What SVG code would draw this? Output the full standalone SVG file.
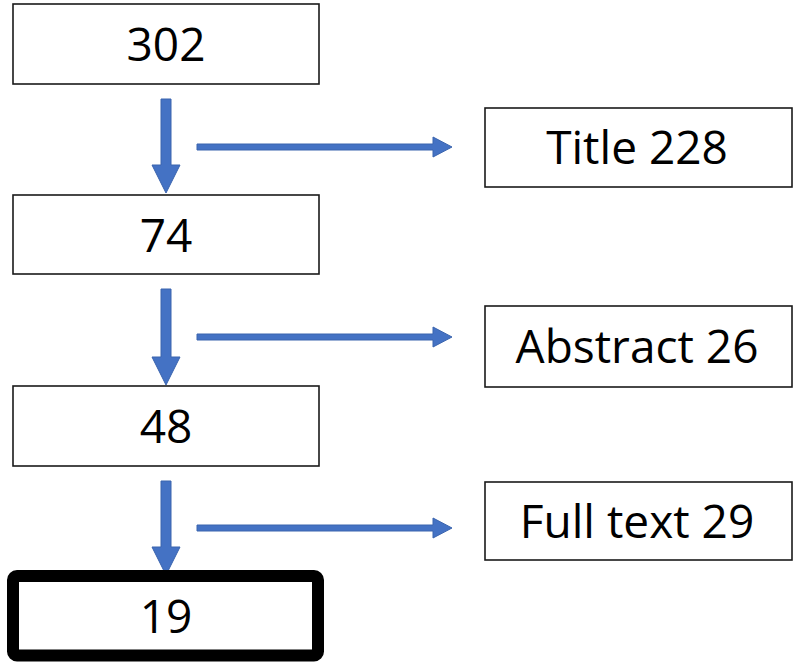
<svg xmlns="http://www.w3.org/2000/svg" width="800" height="670" viewBox="0 0 800 670">
<style>
.box{fill:#fff;stroke:#1a1a1a;stroke-width:1.6}
.final{fill:#fff;stroke:#000;stroke-width:12}
.lbl{font-family:"Open Sans","Noto Sans",sans-serif;font-size:46px;fill:#000;text-anchor:middle}
.arr{fill:#4472C4;stroke:#3a64ae;stroke-width:1}
</style>
<rect width="800" height="670" fill="#fff"/>
<g id="connectors">
<polygon class="arr" points="161,99 171,99 171,165 180,165 166,193 152,165 161,165"/>
<polygon class="arr" points="161,289 171,289 171,357 180,357 166,385 152,357 161,357"/>
<polygon class="arr" points="161,481 171,481 171,547 180,547 166,575 152,547 161,547"/>
<polygon class="arr" points="197,144 433,144 433,137 452,147 433,157 433,150 197,150"/>
<polygon class="arr" points="197,334 433,334 433,327 452,337 433,347 433,340 197,340"/>
<polygon class="arr" points="197,525 433,525 433,518 452,528 433,538 433,531 197,531"/>
</g>
<g id="n302"><rect class="box" x="13" y="4" width="306" height="80"/><text class="lbl" x="166" y="61">302</text></g>
<g id="n74"><rect class="box" x="13" y="195" width="306" height="79"/><text class="lbl" x="166" y="252">74</text></g>
<g id="n48"><rect class="box" x="13" y="386" width="306" height="80"/><text class="lbl" x="166" y="443">48</text></g>
<g id="n19"><rect class="final" x="13" y="576" width="305" height="79.5" rx="4"/><text class="lbl" x="166" y="633">19</text></g>
<g id="title"><rect class="box" x="485" y="108" width="307" height="79"/><text class="lbl" x="637" y="164">Title 228</text></g>
<g id="abstract"><rect class="box" x="485" y="306" width="307" height="81"/><text class="lbl" x="637" y="363">Abstract 26</text></g>
<g id="fulltext"><rect class="box" x="485" y="482" width="307" height="78"/><text class="lbl" x="637" y="538">Full text 29</text></g>
</svg>
